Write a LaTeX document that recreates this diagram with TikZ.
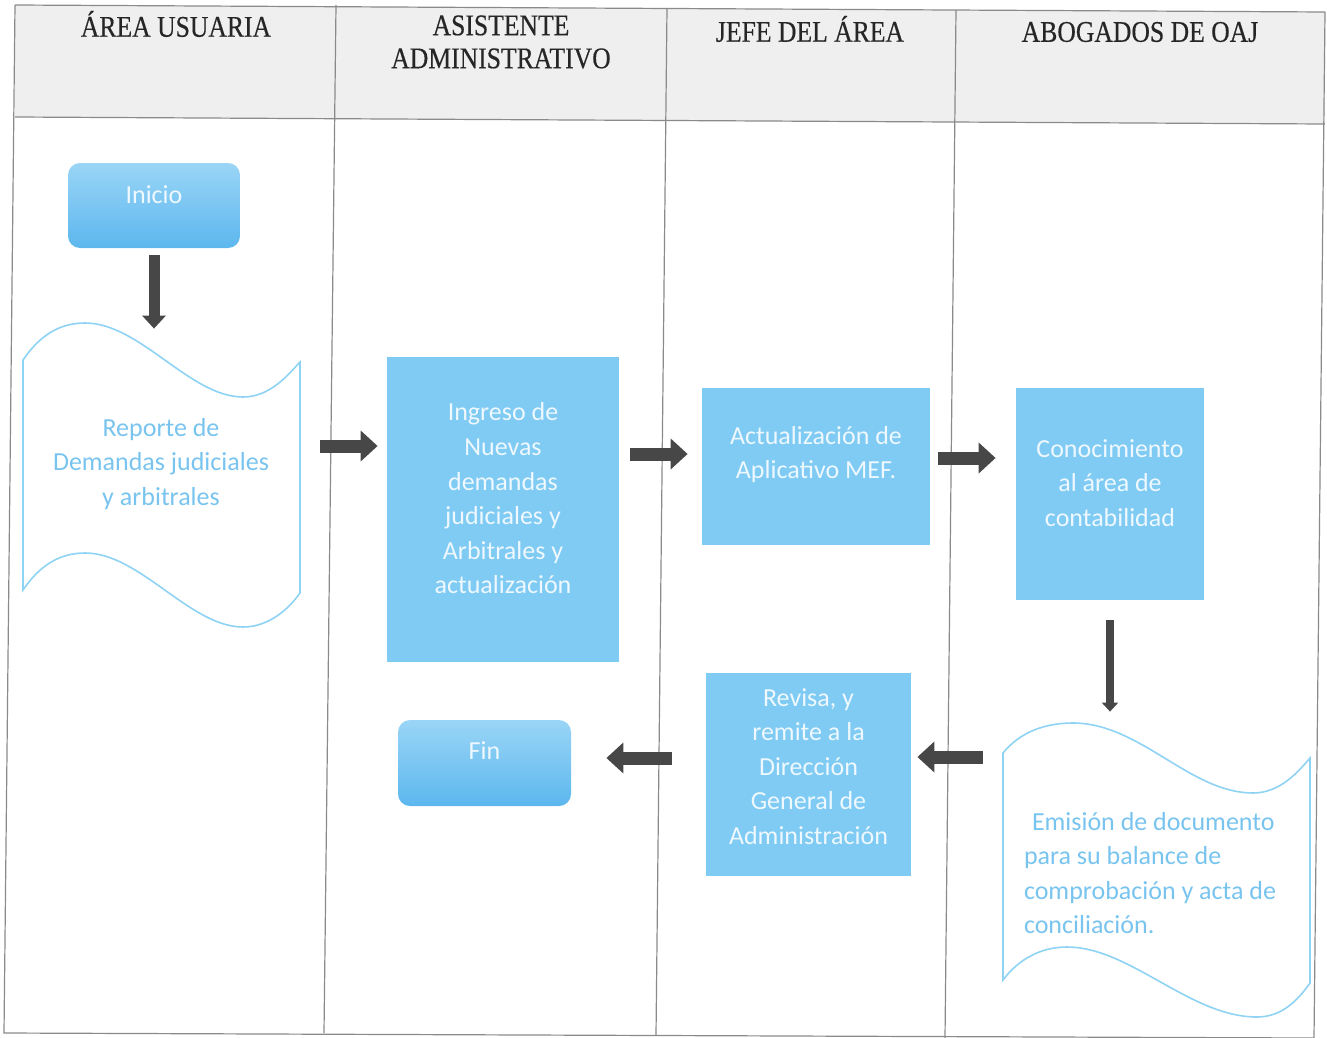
\documentclass[tikz,border=0pt]{standalone}
\usepackage{fontspec}
\setmainfont{Carlito}
\newfontfamily\headfont[FakeStretch=0.855,FakeBold=0.4]{Liberation Serif}
\usetikzlibrary{arrows.meta}

\definecolor{boxblue}{HTML}{7FCBF3}
\definecolor{gradtop}{HTML}{9AD5F6}
\definecolor{gradbot}{HTML}{5CB7EE}
\definecolor{docline}{HTML}{8FD3F4}
\definecolor{doctext}{HTML}{78C4EF}
\definecolor{boxtextc}{HTML}{EEF8FE}
\definecolor{arrowgray}{HTML}{474747}
\definecolor{gridgray}{HTML}{8A8A8A}
\definecolor{headgray}{HTML}{EFEFEF}

\begin{document}
\begin{tikzpicture}[x=0.5pt,y=-0.5pt,
  grid/.style={draw=gridgray,line width=0.6pt},
  headtext/.style={font=\headfont\fontsize{15}{16.5}\selectfont,align=center,inner sep=0pt,text=black!85},
  txt/.style={font=\fontsize{13}{17.3}\selectfont,align=center,inner sep=0pt},
  boxtxt/.style={txt,text=boxtextc},
  procbox/.style={fill=boxblue,inner sep=0pt},
  termbox/.style={rounded corners=6pt,top color=gradtop,bottom color=gradbot,inner sep=0pt,
    font=\fontsize{13}{17.3}\selectfont,text=boxtextc},
  docshape/.style={draw=docline,line width=0.8pt},
  docnode/.style={txt,text=doctext},
  harrow/.style={draw=arrowgray,line width=6.5pt,-{Triangle[length=8.5pt,width=15pt]}},
  varrow/.style={draw=arrowgray,line width=5.5pt,-{Triangle[length=6.5pt,width=11.5pt]}},
  varrowthin/.style={draw=arrowgray,line width=4pt,-{Triangle[length=4.5pt,width=8pt]}}
]
\useasboundingbox (0,0) rectangle (1327,1038);

% header band and swimlane grid
\fill[headgray] (15,5) -- (1325,12) -- (1325,124) -- (15,117) -- cycle;
\draw[grid] (15,5) -- (1325,12);
\draw[grid] (15,117) -- (1325,124);
\draw[grid] (15,5) -- (4,1033) -- (1314,1038) -- (1325,12);
\draw[grid] (336,5) -- (324,1033);
\draw[grid] (667,8) -- (656,1035);
\draw[grid] (956,10) -- (945,1038);

% lane titles
\node[headtext] (h1) at (176,24) {ÁREA USUARIA};
\node[headtext] (h2) at (501,42) {ASISTENTE\\ADMINISTRATIVO};
\node[headtext] (h3) at (810,29) {JEFE DEL ÁREA};
\node[headtext] (h4) at (1140,32) {ABOGADOS DE OAJ};

% process steps
\node[termbox,minimum width=86pt,minimum height=42.5pt] (ini) at (154,205.5)
  {\raisebox{5.5pt}[\height][\depth]{Inicio}};

\node[docnode,minimum width=139pt,minimum height=135pt] (rep) at (161,464)
  {Reporte de\\Demandas judiciales\\y arbitrales};
\draw[docshape] (23,360) .. controls (40,335) and (60,323) .. (85,323)
  .. controls (140,323) and (190,397) .. (243,397)
  .. controls (270,397) and (288,375) .. (300,362)
  -- (300,593) .. controls (288,610) and (268,627) .. (243,627)
  .. controls (190,627) and (140,553) .. (85,553)
  .. controls (60,553) and (40,565) .. (23,590) -- cycle;

\node[procbox,minimum width=116pt,minimum height=152.5pt,
  label={[boxtxt,yshift=5.5pt]center:{Ingreso de\\Nuevas\\demandas\\judiciales y\\Arbitrales y\\actualización}}]
  (ing) at (503,509.5) {};

\node[procbox,minimum width=114pt,minimum height=78.5pt,
  label={[boxtxt,yshift=6pt]center:{Actualización de\\Aplicativo MEF.}}]
  (act) at (816,466.5) {};

\node[procbox,minimum width=94pt,minimum height=106pt,
  label={[boxtxt,yshift=5.5pt]center:{Conocimiento\\al área de\\contabilidad}}]
  (con) at (1110,494) {};

\node[docnode,align=left,minimum width=155pt,minimum height=150pt] (emi) at (1150,873)
  {\hspace*{4pt}Emisión de documento\\para su balance de\\comprobación y acta de\\conciliación.};
\draw[docshape] (1003,753) .. controls (1020,732) and (1045,723) .. (1073,723)
  .. controls (1140,723) and (1190,793) .. (1253,793)
  .. controls (1280,793) and (1298,772) .. (1310,758)
  -- (1310,983) .. controls (1298,1000) and (1282,1017) .. (1257,1017)
  .. controls (1190,1017) and (1130,947) .. (1067,947)
  .. controls (1040,947) and (1018,960) .. (1003,980) -- cycle;

\node[procbox,minimum width=102.5pt,minimum height=101.5pt,
  label={[boxtxt,yshift=4pt]center:{Revisa, y\\remite a la\\Dirección\\General de\\Administración}}]
  (rev) at (808.5,774.5) {};

\node[termbox,minimum width=86.5pt,minimum height=43pt] (fin) at (484.5,763)
  {\raisebox{6pt}[\height][\depth]{Fin}};

% flow
\draw[varrow,shorten <=3.5pt] (ini.south) -- (rep.north -| ini.south);
\draw[harrow,shorten <=10pt,shorten >=4.5pt] (rep.east |- 0,446) -- (ing.west |- 0,446);
\draw[harrow,shorten <=5.5pt,shorten >=7pt] (ing.east |- 0,454) -- (act.west |- 0,454);
\draw[harrow,shorten <=4pt,shorten >=10pt] (act.east |- 0,458) -- (con.west |- 0,458);
\draw[varrowthin,shorten <=10pt,shorten >=5.5pt] (con.south) -- (con.south |- emi.north);
\draw[harrow,shorten <=6pt,shorten >=3pt] (emi.west |- 0,757) -- (rev.east |- 0,757);
\draw[harrow,shorten <=17pt,shorten >=17.5pt] (rev.west |- 0,758) -- (fin.east |- 0,758);
\end{tikzpicture}
\end{document}
